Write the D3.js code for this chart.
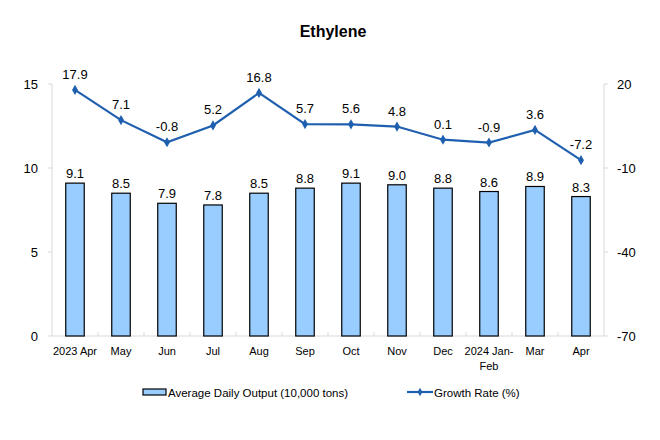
<!DOCTYPE html>
<html><head><meta charset="utf-8">
<script src="https://cdn.jsdelivr.net/npm/d3@7"></script>
<style>body{margin:0;background:#fff}svg{font-family:"Liberation Sans",Arial,sans-serif}</style>
</head><body><svg id="c" width="660" height="440"></svg>
<script>
const categories = ["2023 Apr","May","Jun","Jul","Aug","Sep","Oct","Nov","Dec","2024 Jan-Feb","Mar","Apr"];
const outputValues = [9.1,8.5,7.9,7.8,8.5,8.8,9.1,9.0,8.8,8.6,8.9,8.3];
const growthValues = [17.9,7.1,-0.8,5.2,16.8,5.7,5.6,4.8,0.1,-0.9,3.6,-7.2];
const leftTicks = [0,5,10,15];
const rightTicks = [-70,-40,-10,20];

const svg = d3.select("#c");
const L=52, R=604, T=84, B=336;
const x = d3.scaleBand().domain(categories).range([L,R]);
const yL = d3.scaleLinear().domain([0,15]).range([B,T]);
const yR = d3.scaleLinear().domain([-70,20]).range([B,T]);
const axisColor="#d9d9d9";

svg.append("text").attr("x",333).attr("y",37).attr("text-anchor","middle")
  .attr("font-size",16).attr("font-weight","bold").text("Ethylene");

svg.append("line").attr("x1",L).attr("x2",L).attr("y1",T).attr("y2",B).attr("stroke",axisColor);
svg.append("line").attr("x1",R).attr("x2",R).attr("y1",T).attr("y2",B).attr("stroke",axisColor);
svg.append("line").attr("x1",L).attr("x2",R).attr("y1",B).attr("y2",B).attr("stroke",axisColor);

leftTicks.forEach(t=>{
  svg.append("line").attr("x1",L-4).attr("x2",L).attr("y1",yL(t)).attr("y2",yL(t)).attr("stroke",axisColor);
  svg.append("text").attr("x",L-14).attr("y",yL(t)+5).attr("text-anchor","end").attr("font-size",13).text(t);
});
rightTicks.forEach(t=>{
  svg.append("line").attr("x1",R).attr("x2",R+4).attr("y1",yR(t)).attr("y2",yR(t)).attr("stroke",axisColor);
  svg.append("text").attr("x",R+13).attr("y",yR(t)+5).attr("text-anchor","start").attr("font-size",13).text(t);
});
categories.forEach((c,i)=>{
  if(i>0){ const xx=x(c); svg.append("line").attr("x1",xx).attr("x2",xx).attr("y1",B-4).attr("y2",B).attr("stroke",axisColor);}
});
categories.forEach(c=>{
  const cx=x(c)+x.bandwidth()/2;
  if(c==="2024 Jan-Feb"){
    const t=svg.append("text").attr("x",cx).attr("text-anchor","middle").attr("font-size",11);
    t.append("tspan").attr("x",cx).attr("y",355).text("2024 Jan-");
    t.append("tspan").attr("x",cx).attr("y",370).text("Feb");
  } else {
    svg.append("text").attr("x",cx).attr("y",355).attr("text-anchor","middle").attr("font-size",11).text(c);
  }
});

const bw=18.5;
svg.selectAll("rect.bar").data(outputValues).enter().append("rect")
  .attr("x",(d,i)=>x(categories[i])+x.bandwidth()/2-bw/2)
  .attr("y",d=>yL(d)).attr("width",bw).attr("height",d=>B-yL(d))
  .attr("fill","#99ccff").attr("stroke","#000").attr("stroke-width",1.2);
svg.selectAll("text.bl").data(outputValues).enter().append("text")
  .attr("x",(d,i)=>x(categories[i])+x.bandwidth()/2).attr("y",d=>yL(d)-5)
  .attr("text-anchor","middle").attr("font-size",13).text(d=>d.toFixed(1));

const line=d3.line().x((d,i)=>x(categories[i])+x.bandwidth()/2).y(d=>yR(d));
svg.append("path").datum(growthValues).attr("d",line).attr("fill","none").attr("stroke","#1f5faf").attr("stroke-width",2.2);
svg.selectAll("path.m").data(growthValues).enter().append("path")
  .attr("d",d3.symbol().type(d3.symbolDiamond).size(30))
  .attr("transform",(d,i)=>`translate(${x(categories[i])+x.bandwidth()/2},${yR(d)})`)
  .attr("fill","#1f5faf");
svg.selectAll("text.gl").data(growthValues).enter().append("text")
  .attr("x",(d,i)=>x(categories[i])+x.bandwidth()/2).attr("y",d=>yR(d)-11)
  .attr("text-anchor","middle").attr("font-size",13).text(d=>d.toFixed(1));

svg.append("rect").attr("x",143).attr("y",389).attr("width",23).attr("height",6).attr("fill","#99ccff").attr("stroke","#000").attr("stroke-width",1.2);
svg.append("text").attr("x",168).attr("y",397).attr("font-size",11.5).text("Average Daily Output (10,000 tons)");
svg.append("line").attr("x1",407).attr("x2",433).attr("y1",392).attr("y2",392).attr("stroke","#1f5faf").attr("stroke-width",2.2);
svg.append("path").attr("d",d3.symbol().type(d3.symbolDiamond).size(20)).attr("transform","translate(420,392)").attr("fill","#1f5faf");
svg.append("text").attr("x",434).attr("y",397).attr("font-size",11.5).text("Growth Rate (%)");
</script></body></html>
